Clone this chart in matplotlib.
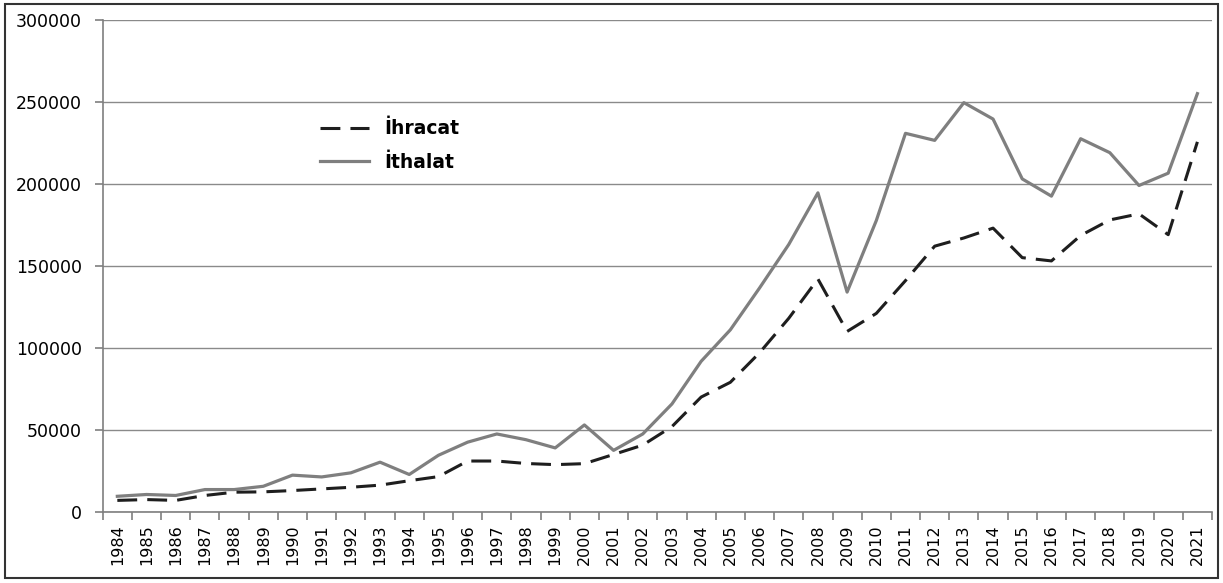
import matplotlib
matplotlib.use('Agg')
import matplotlib.pyplot as plt
from matplotlib.patches import Rectangle

# yillar ve degerler
yillar = list(range(1984, 2022))

ihracat = [7000, 7500, 7000, 10000, 12000, 12200, 13000, 14000, 15000, 16300,
           19000, 21500, 31000, 31000, 29500, 28800, 29400, 35000, 40700, 52000,
           70000, 79000, 97000, 118000, 142000, 110000, 121000, 141000, 162000, 167000,
           173000, 155000, 153000, 168500, 178000, 181700, 169000, 225600]

ithalat = [9500, 10600, 10000, 13600, 13600, 15600, 22400, 21300, 23800, 30300,
           22800, 34500, 42500, 47500, 44000, 39000, 53000, 37500, 47500, 65800,
           91800, 111000, 136500, 163000, 194500, 134000, 177600, 230800, 226500, 249500,
           239500, 203000, 192500, 227500, 219000, 199000, 206500, 255000]

yticks = [0, 50000, 100000, 150000, 200000, 250000, 300000]

fig = plt.figure(figsize=(12.23, 5.83), dpi=100)
ax = fig.add_axes([0.084, 0.122, 0.907, 0.844])

x = list(range(len(yillar)))
ax.plot(x, ithalat, color='#7f7f7f', lw=2.3, label='İthalat', zorder=3)
ax.plot(x, ihracat, color='#1e1e1e', lw=2.2, dashes=(6.5, 3.3), label='İhracat', zorder=4)

ax.set_xlim(-0.5, len(yillar) - 0.5)
ax.set_ylim(0, 300000)
ax.set_yticks(yticks)
ax.set_yticklabels([str(v) for v in yticks])
ax.yaxis.grid(True, color='#8a8a8a', lw=1.0)
ax.set_axisbelow(True)

# tick'ler kategori sinirlarinda (excel gibi)
ax.set_xticks([i - 0.5 for i in range(len(yillar) + 1)])
ax.set_xticklabels([])
ax.set_xticks(x, minor=True)
ax.set_xticklabels([str(y) for y in yillar], minor=True, rotation=90, fontsize=11.5)
ax.tick_params(axis='x', which='minor', length=0, pad=9)
ax.tick_params(axis='x', which='major', length=6, color='#7f7f7f', width=1.2)
ax.tick_params(axis='y', length=6, color='#7f7f7f', width=1.2, labelsize=12.5, pad=9)

for s in ['top', 'right']:
    ax.spines[s].set_visible(False)
for s in ['left', 'bottom']:
    ax.spines[s].set_color('#7f7f7f')
    ax.spines[s].set_linewidth(1.2)

h, l = ax.get_legend_handles_labels()
ax.legend([h[1], h[0]], [l[1], l[0]], loc='upper left', bbox_to_anchor=(0.248, 0.824),
          bbox_transform=fig.transFigure, frameon=False, handlelength=2.6,
          labelspacing=0.75, prop={'weight': 'bold', 'size': 13.5})

fig.patches.append(Rectangle((0.004, 0.008), 0.992, 0.985, transform=fig.transFigure,
                             fill=False, edgecolor='#333333', lw=1.5))

plt.savefig('out.png', dpi=100)
